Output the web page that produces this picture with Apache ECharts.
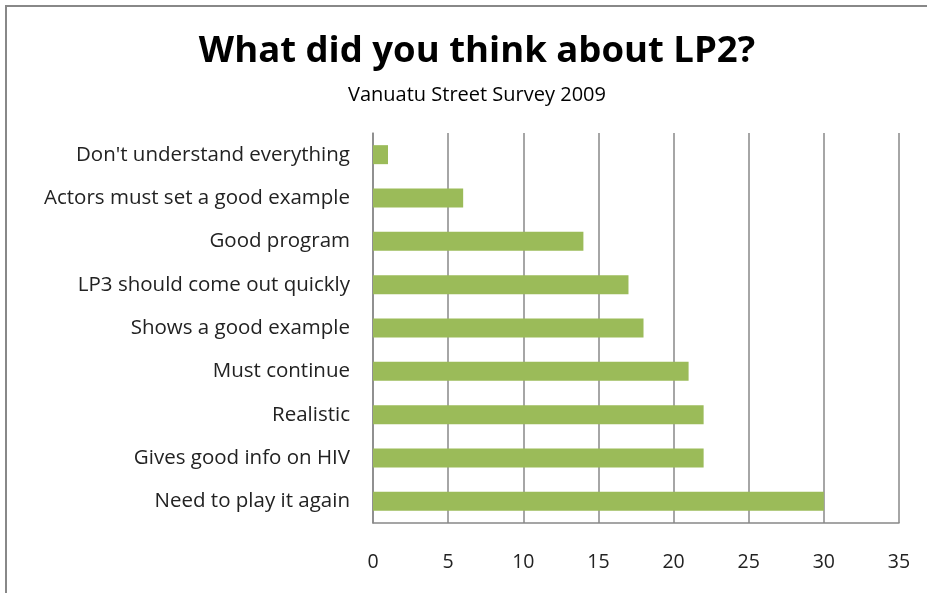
<!DOCTYPE html>
<html>
<head>
<meta charset="utf-8">
<script src="https://cdn.jsdelivr.net/npm/echarts@6/dist/echarts.min.js"></script>
<style>
  html, body { margin: 0; padding: 0; background: #fff; }
  #chart { width: 927px; height: 593px; }
</style>
</head>
<body>
<div id="chart"></div>
<script>
// answers, top to bottom as in the picture
const categories = [
  "Don't understand everything",
  "Actors must set a good example",
  "Good program",
  "LP3 should come out quickly",
  "Shows a good example",
  "Must continue",
  "Realistic",
  "Gives good info on HIV",
  "Need to play it again"
];
const counts = [1, 6, 14, 17, 18, 21, 22, 22, 30];

const fontFamily = "'Open Sans', 'Liberation Sans', sans-serif";
const chart = echarts.init(document.getElementById("chart"));

const option = {
  animation: false,
  backgroundColor: "#fff",
  title: {
    text: "What did you think about LP2?",
    subtext: "Vanuatu Street Survey 2009",
    left: 472,
    textAlign: "center",
    top: 28,
    itemGap: 15,
    textStyle: { fontFamily, fontSize: 36.5, fontWeight: "bold", color: "#000" },
    subtextStyle: { fontFamily, fontSize: 20, color: "#000" }
  },
  graphic: [
    {
      type: "rect",
      shape: { x: 6, y: 6, width: 940, height: 600 },
      style: { fill: null, stroke: "#888", lineWidth: 2 },
      silent: true
    }
  ],
  grid: {
    left: 373,
    right: 28,
    top: 133,
    bottom: 70,
    containLabel: false
  },
  xAxis: {
    type: "value",
    min: 0,
    max: 35,
    interval: 5,
    axisLine: { show: true, lineStyle: { color: "#888", width: 1.5 } },
    axisTick: { show: false },
    splitLine: { show: true, lineStyle: { color: "#888", width: 1.5 } },
    axisLabel: { fontFamily, fontSize: 19.5, color: "#222", margin: 29 }
  },
  yAxis: {
    type: "category",
    data: categories,
    inverse: true,
    axisLine: { show: true, lineStyle: { color: "#888", width: 1.5 } },
    axisTick: { show: false },
    axisLabel: { fontFamily, fontSize: 20.5, color: "#222", margin: 23 }
  },
  series: [
    {
      type: "bar",
      data: counts,
      barWidth: 19,
      itemStyle: { color: "#9BBB59" }
    }
  ]
};

chart.setOption(option);
</script>
</body>
</html>
